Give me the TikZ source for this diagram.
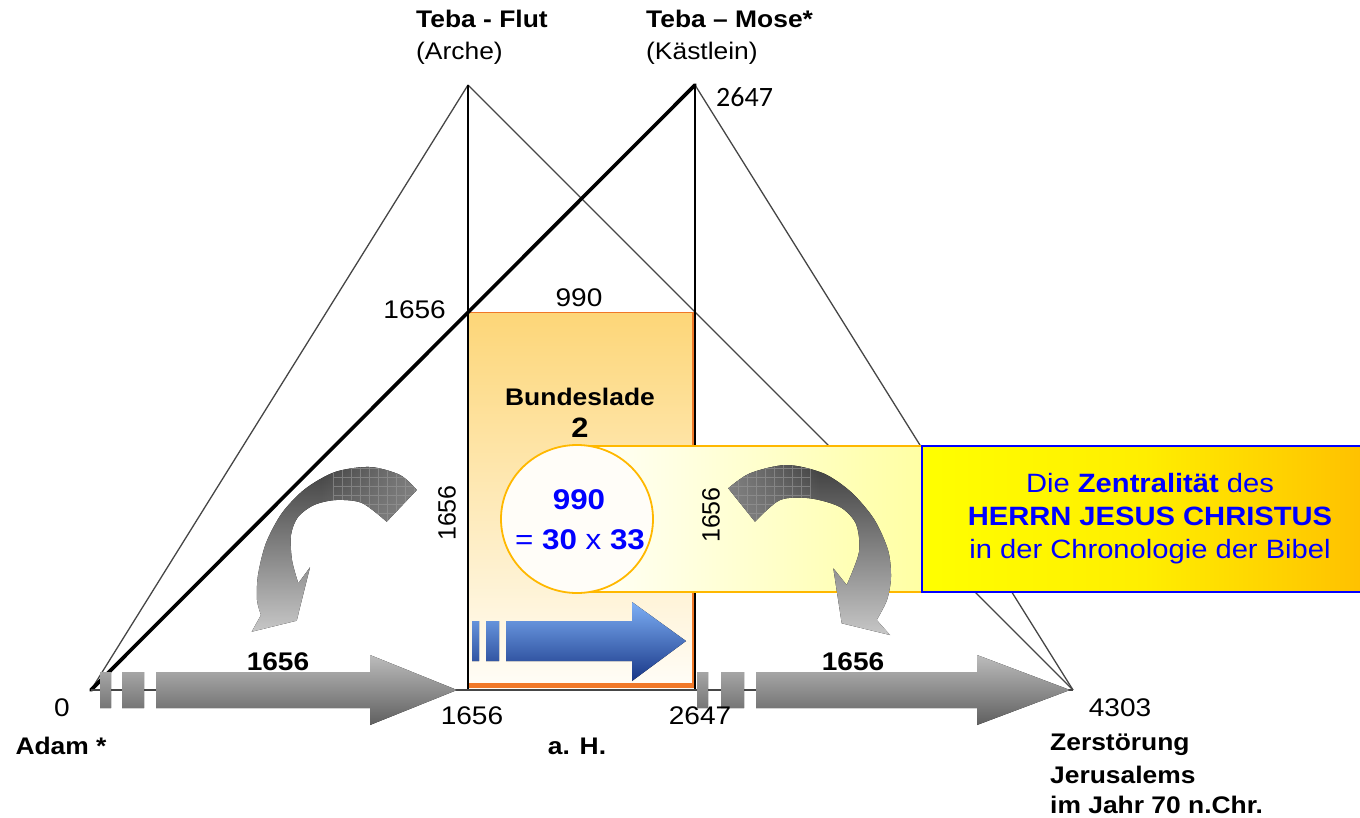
\documentclass[tikz,border=0pt]{standalone}
\usepackage{fontspec}
\setmainfont{Liberation Sans}[FakeStretch=1.1]
\newfontfamily\plainsans{Liberation Sans}
\newfontfamily\calib{Carlito}
\usetikzlibrary{shapes.geometric,fadings}
\definecolor{orangeln}{RGB}{240,120,40}
\definecolor{boxtop}{RGB}{253,214,120}
\definecolor{boxbot}{RGB}{255,253,248}
\definecolor{gold}{RGB}{255,184,0}
\definecolor{calloutR}{RGB}{255,255,160}
\definecolor{txtblue}{RGB}{0,0,255}
\definecolor{navy}{RGB}{25,55,135}
\definecolor{skyb}{RGB}{125,175,245}
\definecolor{rorange}{RGB}{255,192,0}
\definecolor{graylt}{RGB}{188,188,188}
\definecolor{graydk}{RGB}{95,95,95}
\definecolor{linegray}{RGB}{70,70,70}
\tikzfading[name=fadeopR, left color=transparent!100, right color=transparent!0]
\tikzfading[name=fadeopL, left color=transparent!0, right color=transparent!100]
\tikzset{
  lbl/.style={inner sep=0pt, font=\fontsize{24}{28}\selectfont},
  blbl/.style={inner sep=0pt, font=\fontsize{24}{28}\selectfont\bfseries},
  num/.style={inner sep=0pt, font=\fontsize{25.5}{30}\selectfont},
  vnum/.style={inner sep=0pt, rotate=90, font=\plainsans\fontsize{25}{30}\selectfont},
  thinln/.style={line width=1.3pt, linegray},
  grayarrow/.style={top color=graylt, bottom color=graydk},
  curvarrow/.style={top color=black!75, bottom color=black!22},
}
\begin{document}
\begin{tikzpicture}[x=1pt,y=-1pt]
\useasboundingbox (0,0) rectangle (1360,817);
% key points
\coordinate (A) at (91,690);
\coordinate (F) at (468,85);
\coordinate (M) at (695,85);
\coordinate (E) at (1073,690);
\coordinate (Fb) at (468,690);
\coordinate (Mb) at (695,690);

% Bundeslade box
\fill[top color=boxtop, bottom color=boxbot] (468,312) rectangle (695,690);
\draw[orangeln, line width=1.5pt] (468,312.5) -- (695,312.5);
\draw[orangeln, line width=3pt] (693,312) -- (693,687);
\draw[orangeln, line width=5pt] (468,685.5) -- (695,685.5);

% triangle lines
\draw[thinln] (A) -- (F);
\draw[thinln] (F) -- (E);
\draw[thinln] (M) -- (E);
\draw[line width=1.6pt] (F) -- (Fb);
\draw[line width=1.6pt] (M) -- (Mb);
\draw[line width=3.6pt, line cap=round] (A) -- (M);
\draw[line width=2pt, linegray] (A) -- (E);

% callout
\draw[gold, line width=1.8pt, left color=white, right color=calloutR, rounded corners=8pt]
  (560,446) rectangle (935,592);
% right box
\draw[line width=2.6pt, draw=txtblue, left color=yellow, right color=rorange, middle color={rgb,255:red,255;green,238;blue,0}]
  (922,446) rectangle (1366,592);
\node[inner sep=0pt, align=center, text=txtblue, font=\fontsize{26.5}{33}\selectfont] (zen) at (1150,519)
  {Die \textbf{Zentralität} des\\\textbf{HERRN JESUS CHRISTUS}\\in der Chronologie der Bibel};

% circle
\node[ellipse, draw=gold, line width=1.8pt, fill=boxbot, minimum width=152pt, minimum height=148pt, inner sep=0pt] (circ) at (577,519) {};
\node[inner sep=0pt, text=txtblue, font=\fontsize{28.5}{32}\selectfont\bfseries] (c990) at (579,500) {990};
\node[inner sep=0pt, text=txtblue, font=\fontsize{28.5}{32}\selectfont] (cmul) at (580,540) {= \textbf{30} x \textbf{33}};

% gray straight arrows
\fill[grayarrow] (100,672) rectangle (111,708) (122,672) rectangle (144,708)
  (156,672) -- (370,672) -- (370,655) -- (457,690) -- (370,725) -- (370,708) -- (156,708) -- cycle;
\fill[grayarrow] (697,672) rectangle (708,708) (721,672) rectangle (744,708)
  (756,672) -- (977,672) -- (977,655) -- (1070,690) -- (977,725) -- (977,708) -- (756,708) -- cycle;
% blue arrow
\fill[top color=skyb, bottom color=navy] (472,621) rectangle (479,661) (486,621) rectangle (499,661)
  (506,621) -- (632,621) -- (632,602) -- (686,641) -- (632,681) -- (632,661) -- (506,661) -- cycle;

% left curved arrow
\def\leftcurve{(416.7,490) -- plot[smooth] coordinates {(416.7,490) (400,475) (370,467) (335,472) (305,489) (282,513) (266,543) (258,575) (257,600) (261,615)}
  -- (251.7,631.7) -- (296.7,620.7) -- (310,567.3) -- (298.3,583.3)
  -- plot[smooth] coordinates {(298.3,583.3) (292,560) (291,535) (298,517) (314,505) (336,500) (362,503) (386.7,521.7)} -- cycle}
\fill[curvarrow] \leftcurve;
\begin{scope}
  \clip \leftcurve;
  \fill[black!48, path fading=fadeopR] (320,455) rectangle (425,530);
  \draw[black!40, line width=0.6pt, step=9pt, opacity=0.6] (333,455) grid (425,530);
\end{scope}

% right curved arrow
\def\rightcurve{(728.3,488.3) -- plot[smooth] coordinates {(728.3,488.3) (750,473.3) (786.7,465) (823.3,473.3) (851,492) (874,519) (888,550) (891,577) (887,600) (876.7,620)}
  -- (890,635) -- (841.7,623.3) -- (833.3,568.3) -- (846.7,585)
  -- plot[smooth] coordinates {(846.7,585) (859,552) (856,524) (840,507) (810,498.3) (780,500) (755,521.7)} -- cycle}
\fill[curvarrow] \rightcurve;
\begin{scope}
  \clip \rightcurve;
  \fill[black!48, path fading=fadeopL] (720,455) rectangle (820,530);
  \draw[black!40, line width=0.6pt, step=9pt, opacity=0.6] (720,455) grid (810,530);
\end{scope}

% labels
\node[blbl, anchor=west] (tf) at (416,19) {Teba - Flut};
\node[lbl, anchor=west] (arche) at (416,53) {(Arche)};
\node[blbl, anchor=west] (tm) at (646,19) {Teba – Mose*};
\node[lbl, anchor=west] (kast) at (646,53) {(Kästlein)};
\node[inner sep=0pt, anchor=west, font=\calib\fontsize{28}{30}\selectfont] (top2647) at (716,97) {2647};
\node[num, anchor=east] (l1656) at (446,310) {1656};
\node[num] (t990) at (579,298) {990};
\node[blbl] (bl) at (580,397) {Bundeslade};
\node[inner sep=0pt, font=\fontsize{28}{30}\selectfont\bfseries] (two) at (580,428) {2};
\node[vnum] (v1) at (447,513) {1656};
\node[vnum] (v2) at (711,515) {1656};
\node[inner sep=0pt, font=\fontsize{25.5}{30}\selectfont\bfseries] (a1656) at (278,662) {1656};
\node[inner sep=0pt, font=\fontsize{25.5}{30}\selectfont\bfseries] (b1656) at (853,662) {1656};
\node[num] (zero) at (62,708) {0};
\node[num] (x1656) at (472,716) {1656};
\node[num] (x2647) at (700,716) {2647};
\node[num] (x4303) at (1120,708) {4303};
\node[blbl] (adam) at (61,746) {Adam *};
\node[blbl] (ah) at (577,746) {a. H.};
\node[blbl, anchor=west] (z1) at (1050,745) {Zerstörung};
\node[blbl, anchor=west] (z2) at (1050,775) {Jerusalems};
\node[blbl, anchor=west] (z3) at (1050,805) {im Jahr 70 n.Chr.};
\end{tikzpicture}
\end{document}
